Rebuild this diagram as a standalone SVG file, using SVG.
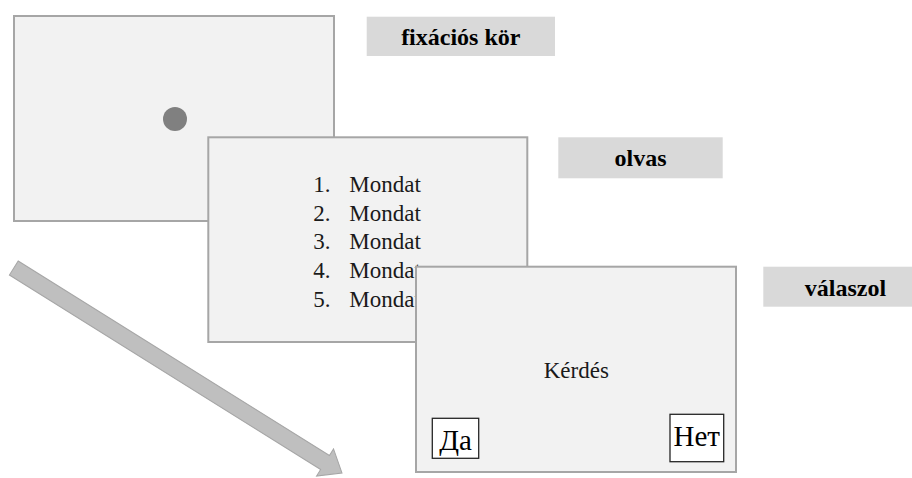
<svg xmlns="http://www.w3.org/2000/svg" width="912" height="478" viewBox="0 0 912 478">
<style>
.screen{fill:#f2f2f2;stroke:#a6a6a6;stroke-width:2}
.lbl{fill:#d9d9d9}
.lt{font-family:'Liberation Serif',serif;font-weight:700;font-size:24px;fill:#000;text-anchor:middle}
.t{font-family:'Liberation Serif',serif;font-size:23px;fill:#1a1a1a}
.btn{fill:#fff;stroke:#262626;stroke-width:1.3}
.bt{font-family:'Liberation Serif',serif;font-size:29px;fill:#000;text-anchor:middle}
</style>
<g id="connectors">
<g id="arrow" transform="translate(13.8,268) rotate(32)">
<polygon points="0,-8.3 367,-8.3 367,-16 387,0 367,16 367,8.3 0,8.3" fill="#bfbfbf" stroke="#a6a6a6" stroke-width="1"/>
</g>
</g>
<g id="label-fixacios">
<rect class="lbl" x="366.7" y="16.7" width="188.3" height="39.3"/>
<text class="lt" x="460.8" y="45" font-family="Liberation Serif">fixációs kör</text>
</g>
<g id="label-olvas">
<rect class="lbl" x="558.3" y="137.3" width="164.4" height="41"/>
<text class="lt" x="640.5" y="166" font-family="Liberation Serif">olvas</text>
</g>
<g id="label-valaszol">
<rect class="lbl" x="763.3" y="266.7" width="149" height="40"/>
<text class="lt" x="845.5" y="296" font-family="Liberation Serif">válaszol</text>
</g>
<g id="screen-fixation">
<rect class="screen" x="14" y="16" width="320" height="205"/>
<circle cx="175" cy="119" r="12" fill="#808080"/>
</g>
<g id="screen-read">
<rect class="screen" x="208.3" y="137.3" width="319" height="204.7"/>
<g class="t">
<text x="313.3" y="191.7">1.</text><text x="349.3" y="191.7">Mondat</text>
<text x="313.3" y="220.5">2.</text><text x="349.3" y="220.5">Mondat</text>
<text x="313.3" y="249.3">3.</text><text x="349.3" y="249.3">Mondat</text>
<text x="313.3" y="278.1">4.</text><text x="349.3" y="278.1">Mondat</text>
<text x="313.3" y="306.9">5.</text><text x="349.3" y="306.9">Mondat</text>
</g>
</g>
<g id="screen-answer">
<rect class="screen" x="416" y="266.7" width="320" height="205.3"/>
<text class="t" x="576.3" y="378.3" text-anchor="middle">Kérdés</text>
<rect class="btn" x="432.3" y="418.3" width="46.4" height="40"/>
<text class="bt" x="455.5" y="450">Да</text>
<rect class="btn" x="670" y="414.3" width="53.7" height="47.4"/>
<text class="bt" x="696.8" y="446">Нет</text>
</g>
</svg>
